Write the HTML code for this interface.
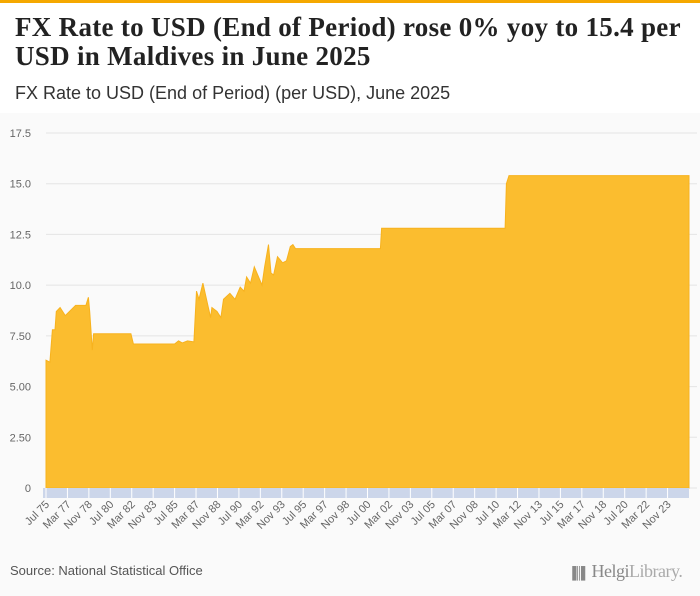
<!DOCTYPE html>
<html><head><meta charset="utf-8"><style>
body{margin:0;width:700px;height:596px;overflow:hidden;background:#fafafa;font-family:"Liberation Sans",sans-serif}
#hdr{position:absolute;left:0;top:0;width:700px;height:113px;background:#fff;border-top:3px solid #f5a800;box-sizing:border-box}
h1{position:absolute;left:15px;top:10px;margin:0;font-family:"Liberation Serif",serif;font-size:27px;line-height:29px;font-weight:bold;color:#222;width:685px;letter-spacing:0.3px}
#sub{position:absolute;left:15px;top:80px;font-size:18px;color:#333}
#src{position:absolute;left:10px;top:563px;font-size:13px;color:#555}
#logo{position:absolute;left:568px;top:561px;font-family:"Liberation Serif",serif;font-size:18px;color:#888;white-space:nowrap;letter-spacing:-0.5px}
svg{position:absolute;left:0;top:0}
</style></head><body>
<div id="hdr">
<h1>FX Rate to USD (End of Period) rose 0% yoy to 15.4 per USD in Maldives in June 2025</h1>
<div id="sub">FX Rate to USD (End of Period) (per USD), June 2025</div>
</div>
<svg id="chart" width="700" height="596"></svg>
<div id="src">Source: National Statistical Office</div>
<div id="logo"><span style="font-size:12px;letter-spacing:-2px">▐║▌</span> Helgi<span style="color:#aaa">Library.</span></div>
<script>
const dates=[1975.5,1975.8,1976.0,1976.2,1976.3,1976.6,1977.0,1977.8,1978.6,1978.8,1978.9,1979.1,1979.2,1982.1,1982.3,1985.5,1985.8,1986.1,1986.5,1987.0,1987.2,1987.4,1987.7,1988.3,1988.4,1988.8,1989.1,1989.3,1989.8,1990.2,1990.6,1990.9,1991.1,1991.4,1991.7,1992.3,1992.5,1992.8,1993.0,1993.2,1993.5,1993.9,1994.2,1994.5,1994.7,1994.9,2001.5,2001.6,2011.2,2011.3,2011.5,2025.5];
const values=[6.3,6.2,7.8,7.8,8.7,8.9,8.5,9.0,9.0,9.4,8.7,6.8,7.6,7.6,7.1,7.1,7.25,7.15,7.25,7.2,9.7,9.3,10.1,8.4,8.9,8.7,8.4,9.3,9.6,9.3,9.9,9.7,10.4,10.1,10.9,10.0,10.9,12.0,10.6,10.5,11.4,11.1,11.2,11.9,12.0,11.8,11.8,12.8,12.8,15.0,15.4,15.4];
const yTicks=[0,2.5,5,7.5,10,12.5,15,17.5];
const yTickLabels=["0","2.50","5.00","7.50","10.0","12.5","15.0","17.5"];
const xLabels=["Jul 75","Mar 77","Nov 78","Jul 80","Mar 82","Nov 83","Jul 85","Mar 87","Nov 88","Jul 90","Mar 92","Nov 93","Jul 95","Mar 97","Nov 98","Jul 00","Mar 02","Nov 03","Jul 05","Mar 07","Nov 08","Jul 10","Mar 12","Nov 13","Jul 15","Mar 17","Nov 18","Jul 20","Mar 22","Nov 23"];
const svg=document.getElementById('chart'),NS='http://www.w3.org/2000/svg';
const X0=46,X1=689,Y0=488,T0=1975.5,T1=2025.5;
const x=t=>X0+(t-T0)/(T1-T0)*(X1-X0);
const y=v=>Y0-v*(355/17.5);
function mk(tag,a){const e=document.createElementNS(NS,tag);for(const k in a)e.setAttribute(k,a[k]);svg.appendChild(e);return e;}
yTicks.forEach((v,i)=>{
 const g=mk('line',{x1:X0,x2:697,y1:y(v),y2:y(v),stroke:'#e4e4e4'});
 
 
 const t=mk('text',{x:31,y:y(v)+4,'text-anchor':'end','font-size':11,fill:'#666','font-family':'Liberation Sans'});
 t.textContent=yTickLabels[i];
 
 
});
let d='M'+x(dates[0])+','+Y0;
dates.forEach((t,i)=>{d+=' L'+x(t).toFixed(1)+','+y(values[i]).toFixed(1);});
d+=' L'+x(dates[dates.length-1])+','+Y0+'Z';
const area=mk('path',{d:d,fill:'#fbbd2f',stroke:'#f7b21e','stroke-width':1});


const band=mk('rect',{x:X0-3,y:Y0,width:X1-X0+3,height:10,fill:'#ccd6ea'});


xLabels.forEach((l,i)=>{
 const t=T0+i*20/12, px=x(t);
 const tk=mk('line',{x1:px,x2:px,y1:Y0,y2:Y0+10,stroke:'#fff'});
 
 
 const tx=mk('text',{x:px+4,y:Y0+17,'text-anchor':'end','font-size':11,fill:'#666','font-family':'Liberation Sans',transform:`rotate(-45 ${px+4} ${Y0+17})`});
 tx.textContent=l;
 
 
});
</script>
</body></html>
